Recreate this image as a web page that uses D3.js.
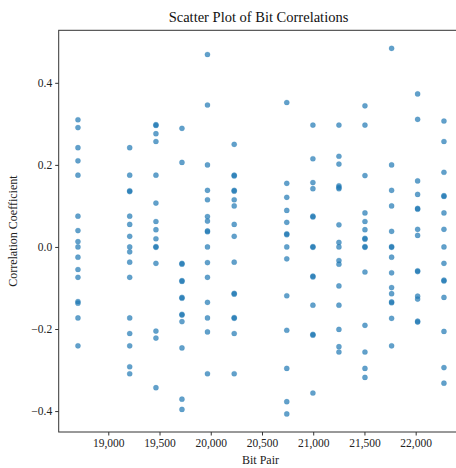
<!DOCTYPE html>
<html lang="en">
<head>
<meta charset="UTF-8">
<title>Scatter Plot of Bit Correlations</title>
<script src="https://d3js.org/d3.v7.min.js"></script>
<style>
  body { margin: 0; background: #fff; }
  svg { font-family: "Liberation Serif", "DejaVu Serif", serif; }
</style>
</head>
<body>
<div id="chart"></div>
<script>
    // Bit pair positions (x) of each column of points
    var bitPairs = [18704, 19209, 19465, 19719, 19968, 20229, 20742, 20997, 21251, 21505, 21765, 22019, 22276];

    // Correlation coefficients read for each column
    var correlations = [
        [0.310, 0.291, 0.242, 0.210, 0.175, 0.075, 0.040, 0.013, 0.0, -0.025, -0.055, -0.074, -0.133, -0.137, -0.173, -0.241],
        [0.242, 0.175, 0.135, 0.137, 0.075, 0.055, 0.026, 0.0, -0.012, -0.037, -0.074, -0.173, -0.211, -0.241, -0.292, -0.309],
        [0.298, 0.296, 0.276, 0.257, 0.175, 0.107, 0.062, 0.042, 0.020, 0.001, -0.001, -0.040, -0.205, -0.222, -0.343],
        [0.289, 0.206, -0.040, -0.042, -0.082, -0.084, -0.123, -0.125, -0.164, -0.166, -0.182, -0.246, -0.371, -0.396],
        [0.469, 0.346, 0.200, 0.138, 0.115, 0.074, 0.063, 0.039, 0.037, 0.0, -0.038, -0.074, -0.135, -0.173, -0.207, -0.309],
        [0.250, 0.175, 0.173, 0.138, 0.136, 0.115, 0.100, 0.055, 0.026, -0.037, -0.113, -0.115, -0.172, -0.174, -0.211, -0.309],
        [0.352, 0.155, 0.121, 0.089, 0.060, 0.032, 0.030, 0.0, -0.029, -0.119, -0.203, -0.296, -0.377, -0.407],
        [0.297, 0.215, 0.157, 0.142, 0.075, 0.073, 0.001, -0.001, -0.071, -0.073, -0.142, -0.213, -0.215, -0.356],
        [0.297, 0.221, 0.202, 0.149, 0.145, 0.142, 0.054, 0.011, 0.0, -0.033, -0.042, -0.095, -0.142, -0.201, -0.243, -0.256],
        [0.344, 0.297, 0.174, 0.083, 0.062, 0.042, 0.021, 0.019, 0.001, -0.001, -0.061, -0.191, -0.256, -0.296, -0.318],
        [0.484, 0.200, 0.138, 0.100, 0.038, 0.001, -0.001, -0.025, -0.063, -0.099, -0.114, -0.134, -0.136, -0.174, -0.241],
        [0.373, 0.311, 0.161, 0.128, 0.094, 0.092, 0.043, 0.028, -0.058, -0.060, -0.120, -0.127, -0.181, -0.183],
        [0.307, 0.257, 0.182, 0.125, 0.123, 0.083, 0.043, 0.0, -0.040, -0.081, -0.083, -0.123, -0.206, -0.294, -0.332]
    ];

    var xTicks = [19000, 19500, 20000, 20500, 21000, 21500, 22000];
    var yTicks = [-0.4, -0.2, 0.0, 0.2, 0.4];

    var width = 456, height = 468;
    var plot = { left: 58.7, right: 462.3, top: 30.3, bottom: 432 };
    var serif = "Liberation Serif, DejaVu Serif, serif";

    var svg = d3.select("#chart").append("svg")
        .attr("width", width)
        .attr("height", height);

    var x = d3.scaleLinear().domain([18516, 22455]).range([plot.left, plot.right]);
    var y = d3.scaleLinear().domain([-0.451, 0.528]).range([plot.bottom, plot.top]);

    // flatten columns into points
    var points = [];
    bitPairs.forEach(function(bp, i) {
        correlations[i].forEach(function(c) { points.push({ bit: bp, corr: c }); });
    });

    svg.append("g")
        .selectAll("circle")
        .data(points)
        .enter().append("circle")
        .attr("cx", function(d) { return x(d.bit); })
        .attr("cy", function(d) { return y(d.corr); })
        .attr("r", 2.6)
        .attr("fill", "#1f77b4")
        .attr("fill-opacity", 0.7)
        .attr("stroke", "#1f77b4")
        .attr("stroke-opacity", 0.35)
        .attr("stroke-width", 0.5);

    // frame
    svg.append("rect")
        .attr("x", plot.left)
        .attr("y", plot.top)
        .attr("width", plot.right - plot.left)
        .attr("height", plot.bottom - plot.top)
        .attr("fill", "none")
        .attr("stroke", "#333")
        .attr("stroke-width", 1);

    var fmtX = d3.format(",");
    var xAxis = svg.append("g")
        .attr("transform", "translate(0," + plot.bottom + ")")
        .call(d3.axisBottom(x).tickValues(xTicks).tickFormat(fmtX).tickSize(3.5).tickPadding(3));
    xAxis.select(".domain").remove();

    var fmtY = function(d) { return d3.format(".1f")(d).replace("-", "\u2212"); };
    var yAxis = svg.append("g")
        .attr("transform", "translate(" + plot.left + ",0)")
        .call(d3.axisLeft(y).tickValues(yTicks).tickFormat(fmtY).tickSize(3.5).tickPadding(3));
    yAxis.select(".domain").remove();

    [xAxis, yAxis].forEach(function(ax) {
        ax.attr("font-family", serif).attr("font-size", 11.5);
        ax.selectAll(".tick line").attr("stroke", "#333");
        ax.selectAll(".tick text").attr("fill", "#222");
    });

    svg.append("text")
        .attr("x", (plot.left + plot.right) / 2 - 2)
        .attr("y", 22)
        .attr("text-anchor", "middle")
        .attr("fill", "#111")
        .attr("font-family", serif)
        .attr("font-size", 14.5)
        .text("Scatter Plot of Bit Correlations");

    svg.append("text")
        .attr("x", (plot.left + plot.right) / 2)
        .attr("y", 464)
        .attr("text-anchor", "middle")
        .attr("fill", "#222")
        .attr("font-family", serif)
        .attr("font-size", 12)
        .text("Bit Pair");

    svg.append("text")
        .attr("transform", "translate(17," + ((plot.top + plot.bottom) / 2) + ") rotate(-90)")
        .attr("text-anchor", "middle")
        .attr("fill", "#222")
        .attr("font-family", serif)
        .attr("font-size", 12)
        .text("Correlation Coefficient");
</script>
</body>
</html>
